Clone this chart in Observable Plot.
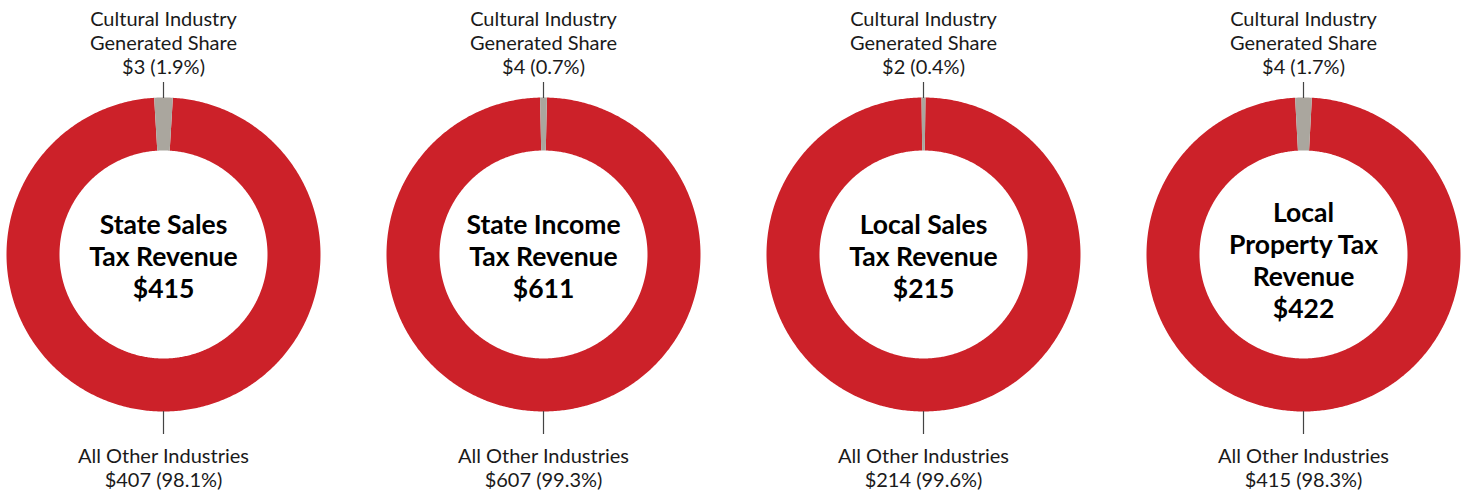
<!DOCTYPE html>
<html>
<head>
<meta charset="utf-8">
<script src="https://cdn.jsdelivr.net/npm/d3@7"></script>
<script src="https://cdn.jsdelivr.net/npm/@observablehq/plot@0.6"></script>
<style>
  html, body { margin: 0; padding: 0; background: #fff; overflow: hidden; }
  #row { display: flex; width: 1520px; margin-left: -27px; }
  #row svg { display: block; }
</style>
</head>
<body>
<div id="row"></div>
<script>
// ---- data ----
const taxTitles = ["State Sales\nTax Revenue", "State Income\nTax Revenue", "Local Sales\nTax Revenue", "Local\nProperty Tax\nRevenue"];
const totals = [415, 611, 215, 422];
const culturalValues = [3, 4, 2, 4];
const culturalPct = [1.9, 0.7, 0.4, 1.7];
const otherValues = [407, 607, 214, 415];
const otherPct = [98.1, 99.3, 99.6, 98.3];
const culturalLabel = "Cultural Industry\nGenerated Share";
const otherLabel = "All Other Industries";

// ---- style ----
const RED = "#CC2129";
const GREY = "#AAA69E";
const R_OUT = 157, R_IN = 104;
const FONT = "Lato, 'Open Sans', sans-serif";

function slicePolygon(a0, a1, id) {
  const pts = [];
  const n = Math.max(4, Math.ceil((a1 - a0) / 0.01));
  for (let i = 0; i <= n; i++) {
    const a = a0 + (a1 - a0) * i / n;
    pts.push({id, x: R_OUT * Math.sin(a), y: R_OUT * Math.cos(a)});
  }
  for (let i = n; i >= 0; i--) {
    const a = a0 + (a1 - a0) * i / n;
    pts.push({id, x: R_IN * Math.sin(a), y: R_IN * Math.cos(a)});
  }
  return pts;
}

const row = document.getElementById("row");
taxTitles.forEach((title, i) => {
  const share = culturalPct[i] / 100;
  const half = Math.PI * share;
  const grey = slicePolygon(-half, half, "c");
  const red = slicePolygon(half, 2 * Math.PI - half, "o");
  const centerText = title + "\n$" + totals[i];
  const nLines = centerText.split("\n").length;
  const plot = Plot.plot({
    width: 380,
    height: 490,
    margin: 0,
    x: {domain: [-190, 190], axis: null},
    y: {domain: [-236, 254], axis: null},
    style: {fontFamily: FONT, background: "white"},
    marks: [
      Plot.line(red, {x: "x", y: "y", curve: "linear-closed", fill: RED, stroke: "none"}),
      Plot.line(grey, {x: "x", y: "y", curve: "linear-closed", fill: GREY, stroke: "none"}),
      Plot.ruleX([0], {y1: R_OUT - 1, y2: R_OUT + 15, stroke: "#444", strokeWidth: 1.2}),
      Plot.ruleX([0], {y1: -R_OUT, y2: -(R_OUT + 23), stroke: "#444", strokeWidth: 1.2}),
      Plot.text([culturalLabel + "\n$" + culturalValues[i] + " (" + culturalPct[i] + "%)"], {
        x: 0, y: R_OUT + 55, text: d => d, lineAnchor: "middle", fontSize: 20, lineHeight: 24/20, fill: "#1a1a1a"
      }),
      Plot.text([otherLabel + "\n$" + otherValues[i] + " (" + otherPct[i] + "%)"], {
        x: 0, y: -(R_OUT + 56), text: d => d, lineAnchor: "middle", fontSize: 20, lineHeight: 24/20, fill: "#1a1a1a"
      }),
      Plot.text([centerText], {
        x: 0, y: nLines === 3 ? -1 : -5, text: d => d, lineAnchor: "middle", fontSize: 26.5, fontWeight: "bold", lineHeight: 32/26.5, fill: "#000"
      })
    ]
  });
  row.appendChild(plot);
});
</script>
</body>
</html>
